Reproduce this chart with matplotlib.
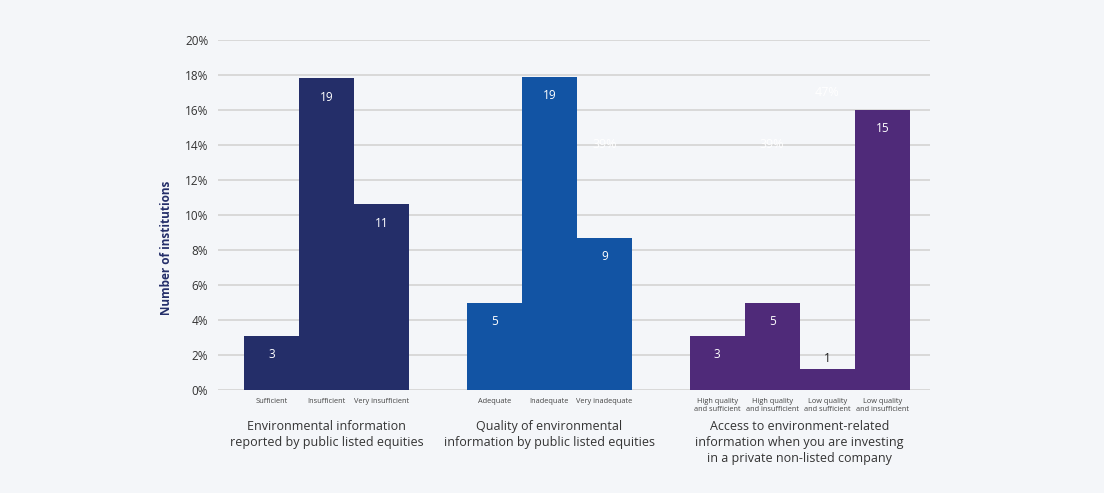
import matplotlib.pyplot as plt

# Data
groups = ["Environmental information\nreported by public listed equities",
          "Quality of environmental\ninformation by public listed equities",
          "Access to environment-related\ninformation when you are investing\nin a private non-listed company"]
categories = [["Sufficient", "Insufficient", "Very insufficient"],
              ["Adequate", "Inadequate", "Very inadequate"],
              ["High quality\nand sufficient", "High quality\nand insufficient",
               "Low quality\nand sufficient", "Low quality\nand insufficient"]]
heights = [[3.1, 17.8, 10.6],
           [5.0, 17.9, 8.7],
           [3.1, 5.0, 1.2, 16.0]]
counts = [[3, 19, 11],
          [5, 19, 9],
          [3, 5, 1, 15]]
colors = ["#242e69", "#1254a4", "#4f2a79"]
# faint (white-on-white) share labels seen in the picture
hidden_labels = [(6.05, 14.0, "39%"), (9.1, 14.0, "39%"), (10.1, 17.0, "47%")]

bg = "#f4f6f9"
plt.rcParams['font.family'] = ['Open Sans', 'DejaVu Sans']

fig = plt.figure(figsize=(11.04, 4.93), dpi=100, facecolor=bg)
ax = fig.add_axes([0.1975, 0.2089, 0.645, 0.71])
ax.set_facecolor(bg)

gap = 1.05
start = 0.0
centers = []
for g, (cats, hs, cs) in enumerate(zip(categories, heights, counts)):
    xs = [start + i for i in range(len(cats))]
    ax.bar(xs, hs, width=1.0, color=colors[g], zorder=3)
    for x, h, c, cat in zip(xs, hs, cs, cats):
        if h < 2:
            ax.annotate(str(c), (x, h), xytext=(0, 11), textcoords="offset pixels",
                        ha="center", va="center", fontsize=8.5, color="#222222", zorder=4)
        else:
            ax.annotate(str(c), (x, h), xytext=(0, -19), textcoords="offset pixels",
                        ha="center", va="center", fontsize=8.5, color="white", zorder=4)
        ax.text(x, -0.45, cat, ha="center", va="top",
                fontsize=5.3, color="#444444", linespacing=1.25)
    centers.append((xs[0] + xs[-1]) / 2)
    start = xs[-1] + 1 + gap

for x, y, t in hidden_labels:
    ax.text(x, y, t, ha="center", va="center", fontsize=9, color="white", zorder=2)

trans = ax.get_xaxis_transform()
for c, title in zip(centers, groups):
    ax.text(c, -0.085, title, transform=trans, ha="center", va="top",
            fontsize=9, color="#333333", linespacing=1.3)

ax.set_xlim(-0.97, 11.97)
ax.set_ylim(0, 20)
ax.set_yticks(range(0, 21, 2))
ax.set_yticklabels([f"{v}%" for v in range(0, 21, 2)])
ax.set_xticks([])
ax.tick_params(axis="y", length=0, pad=7, labelsize=8.5, labelcolor="#333333")
ax.grid(axis="y", color="#d9d9d9", linewidth=1.4, zorder=0)
for s in ax.spines.values():
    s.set_visible(False)

ax.set_ylabel("Number of institutions", fontsize=8.5, fontweight="bold",
              color="#242e69")
ax.yaxis.set_label_coords(-0.063, 0.406)

fig.savefig("out.png", dpi=100, facecolor=bg)
